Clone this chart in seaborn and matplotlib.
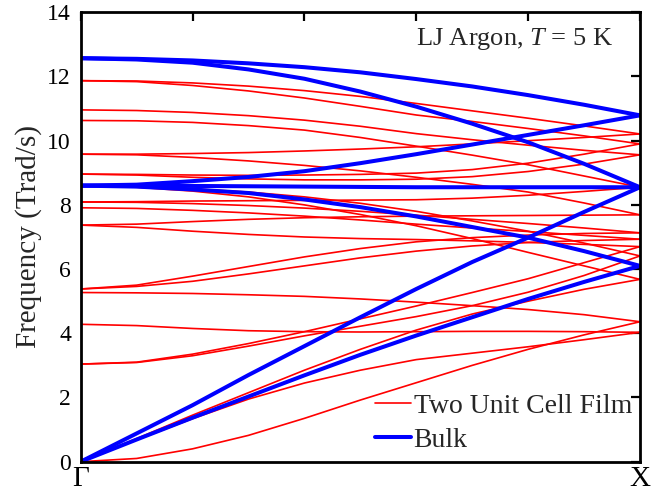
import matplotlib
matplotlib.use("Agg")
import matplotlib.pyplot as plt
import pandas as pd
import seaborn as sns
from matplotlib.lines import Line2D

# reduced wave vector along Gamma -> X
q = [0.0, 0.1, 0.2, 0.3, 0.4, 0.5, 0.6, 0.7, 0.8, 0.9, 1.0]

# bulk LJ argon branches (Trad/s)
bulk_top = [12.57, 12.55, 12.50, 12.41, 12.29, 12.13, 11.92, 11.69, 11.42, 11.12, 10.79]
bulk_la_fold = [12.57, 12.53, 12.43, 12.22, 11.93, 11.53, 11.06, 10.53, 9.95, 9.28, 8.55]
bulk_rise = [8.60, 8.63, 8.74, 8.87, 9.05, 9.30, 9.58, 9.88, 10.18, 10.48, 10.79]
bulk_flat = [8.60, 8.60, 8.59, 8.58, 8.57, 8.56, 8.55, 8.55, 8.55, 8.55, 8.55]
bulk_ta_fold = [8.60, 8.57, 8.48, 8.37, 8.17, 7.93, 7.64, 7.31, 6.98, 6.56, 6.10]
bulk_la = [0.00, 0.88, 1.76, 2.70, 3.60, 4.50, 5.38, 6.22, 6.98, 7.78, 8.55]
bulk_ta = [0.00, 0.69, 1.37, 2.03, 2.69, 3.33, 3.93, 4.50, 5.07, 5.60, 6.10]

# two unit cell film branches (Trad/s)
film_1187a = [11.87, 11.86, 11.80, 11.70, 11.56, 11.38, 11.16, 10.93, 10.70, 10.46, 10.21]
film_1187b = [11.87, 11.84, 11.72, 11.55, 11.33, 11.07, 10.80, 10.60, 10.38, 10.15, 9.90]
film_1096 = [10.96, 10.94, 10.88, 10.78, 10.64, 10.45, 10.22, 10.03, 9.86, 9.70, 9.56]
film_1063 = [10.63, 10.62, 10.57, 10.47, 10.33, 10.10, 9.83, 9.55, 9.25, 8.90, 8.55]
film_958a = [9.58, 9.58, 9.60, 9.63, 9.68, 9.74, 9.81, 9.90, 10.00, 10.10, 10.21]
film_958b = [9.58, 9.56, 9.48, 9.37, 9.23, 9.06, 8.86, 8.64, 8.40, 8.06, 7.69]
film_896a = [8.96, 8.95, 8.93, 8.92, 8.93, 8.95, 8.99, 9.10, 9.30, 9.58, 9.90]
film_896b = [8.96, 8.93, 8.86, 8.81, 8.78, 8.78, 8.80, 8.88, 9.04, 9.27, 9.56]
film_860a = [8.60, 8.57, 8.50, 8.40, 8.25, 8.05, 7.80, 7.50, 7.18, 6.81, 6.41]
film_860b = [8.60, 8.55, 8.43, 8.25, 8.00, 7.70, 7.35, 6.95, 6.52, 6.10, 5.68]
film_809a = [8.09, 8.10, 8.12, 8.13, 8.14, 8.15, 8.16, 8.21, 8.30, 8.42, 8.55]
film_809b = [8.09, 8.08, 8.04, 7.98, 7.90, 7.80, 7.68, 7.55, 7.42, 7.28, 7.13]
film_791 = [7.91, 7.89, 7.83, 7.75, 7.65, 7.53, 7.40, 7.28, 7.17, 7.05, 6.93]
film_737a = [7.37, 7.40, 7.48, 7.55, 7.60, 7.63, 7.65, 7.66, 7.67, 7.68, 7.69]
film_737b = [7.37, 7.30, 7.18, 7.08, 7.00, 6.95, 6.92, 6.88, 6.83, 6.77, 6.70]
film_538a = [5.38, 5.50, 5.78, 6.08, 6.38, 6.64, 6.85, 6.98, 7.06, 7.11, 7.13]
film_538b = [5.38, 5.46, 5.62, 5.85, 6.10, 6.35, 6.56, 6.72, 6.83, 6.89, 6.93]
film_527 = [5.27, 5.26, 5.24, 5.20, 5.15, 5.07, 4.97, 4.86, 4.74, 4.58, 4.36]
film_428 = [4.28, 4.24, 4.15, 4.08, 4.05, 4.04, 4.05, 4.06, 4.06, 4.05, 4.03]
film_304a = [3.04, 3.10, 3.35, 3.68, 4.05, 4.45, 4.85, 5.27, 5.70, 6.20, 6.70]
film_304b = [3.04, 3.09, 3.30, 3.60, 3.92, 4.22, 4.52, 4.86, 5.28, 5.80, 6.41]
film_inplane = [0.00, 0.72, 1.45, 2.15, 2.85, 3.50, 4.10, 4.60, 5.00, 5.37, 5.68]
film_bend = [0.00, 0.68, 1.34, 1.95, 2.45, 2.85, 3.18, 3.38, 3.58, 3.80, 4.03]
film_flex = [0.00, 0.10, 0.40, 0.82, 1.35, 1.92, 2.46, 3.00, 3.50, 3.95, 4.36]

bulk_branches = [bulk_top, bulk_la_fold, bulk_rise, bulk_flat,
                 bulk_ta_fold, bulk_la, bulk_ta]
film_branches = [film_1187a, film_1187b, film_1096, film_1063, film_958a,
                 film_958b, film_896a, film_896b, film_860a, film_860b,
                 film_809a, film_809b, film_791, film_737a, film_737b,
                 film_538a, film_538b, film_527, film_428, film_304a,
                 film_304b, film_inplane, film_bend, film_flex]


def to_frame(branches):
    rows = []
    for i, b in enumerate(branches):
        for k, w in zip(q, b):
            rows.append({"q": k, "freq": w, "branch": i})
    return pd.DataFrame(rows)


film_df = to_frame(film_branches)
bulk_df = to_frame(bulk_branches)

sns.set_theme(style="white")
plt.rcParams["font.family"] = ["Liberation Serif", "DejaVu Serif"]
plt.rcParams["mathtext.fontset"] = "custom"
plt.rcParams["mathtext.rm"] = "Liberation Serif"
plt.rcParams["mathtext.it"] = "Liberation Serif:italic"

fig = plt.figure(figsize=(6.52, 4.96), dpi=100)
ax = fig.add_axes([0.1238, 0.0692, 0.8578, 0.906])

red = "#ff0000"
blue = "#0000ff"

sns.lineplot(data=film_df, x="q", y="freq", units="branch", estimator=None,
             color=red, lw=1.2, ax=ax, legend=False)
sns.lineplot(data=bulk_df, x="q", y="freq", units="branch", estimator=None,
             color=blue, lw=2.9, ax=ax, legend=False)

ax.set_xlim(0, 1)
ax.set_ylim(0, 14)
ax.set_xticks([0, 0.2, 0.4, 0.6, 0.8, 1.0])
ax.set_xticklabels(["Γ", "", "", "", "", "X"])
ax.set_yticks([0, 2, 4, 6, 8, 10, 12, 14])
ax.tick_params(axis="both", direction="in", top=True, right=True,
               length=6.5, width=1.6, colors="black")
ax.tick_params(axis="y", labelsize=17, pad=7)
ax.tick_params(axis="x", labelsize=21, pad=3)
ax.set_xlabel("")
ax.set_ylabel("Frequency (Trad/s)", fontsize=21, labelpad=4)
for s in ax.spines.values():
    s.set_linewidth(2.0)
    s.set_color("black")

ax.text(0.9517, 0.9272, "LJ Argon, $T$ = 5 K", transform=ax.transAxes,
        ha="right", va="baseline", fontsize=19)

handles = [Line2D([], [], color=red, lw=1.2), Line2D([], [], color=blue, lw=2.9)]
ax.legend(handles, ["Two Unit Cell Film", "Bulk"], loc="upper left",
          bbox_to_anchor=(0.527, 0.152), frameon=False, fontsize=20,
          handlelength=1.27, handletextpad=0.1, borderpad=0,
          borderaxespad=0, labelspacing=0.3)

fig.savefig("out.png", dpi=100)
